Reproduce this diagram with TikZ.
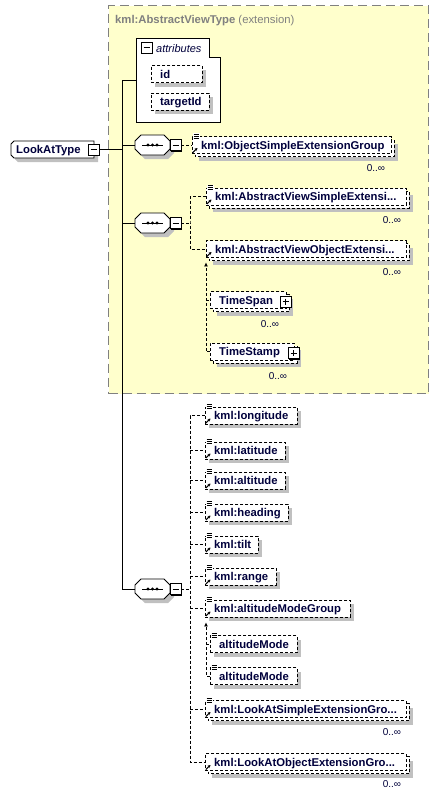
\documentclass[tikz,border=0pt]{standalone}
\usepackage{fontspec}
\setmainfont{Liberation Sans}
\usetikzlibrary{arrows.meta}
\definecolor{bgyellow}{RGB}{255,255,204}
\definecolor{shd}{RGB}{192,192,192}
\definecolor{framec}{RGB}{128,128,128}
\definecolor{navy}{RGB}{0,0,60}
\tikzset{
  conn/.style={line width=0.8pt, black},
  dcon/.style={line width=0.8pt, black, dash pattern=on 3pt off 2pt},
  ebox/.style={draw=black, fill=white, line width=0.8pt, dash pattern=on 3pt off 2pt, inner sep=0pt, minimum height=17pt},
  etext/.style={font=\fontsize{11.3}{13}\selectfont\bfseries, text=navy, inner sep=0pt, anchor=base west},
  occ/.style={font=\fontsize{10}{12}\selectfont, text=navy, inner sep=0pt},
  tgbox/.style={draw=black, fill=white, line width=0.8pt, minimum width=11pt, minimum height=11pt, inner sep=0pt},
  subarrow/.style={dcon, -{Latex[length=4pt,width=4pt]}},
}
% element box: name, x1, x2, cy, text, repeated(0/1)
\newcommand{\xelem}[6]{%
  \ifnum#6=1\relax
    \fill[shd] (#2+7,#4-8.5+7) rectangle (#3+7,#4+8.5+7);
    \draw[ebox] (#2+3,#4-8.5+3) rectangle (#3+3,#4+8.5+3);
  \else
    \fill[shd] (#2+4,#4-8.5+4) rectangle (#3+4,#4+8.5+4);
  \fi
  \node[ebox, minimum width={(#3-#2)*1pt}, anchor=west] (#1) at (#2,#4) {};
  \node[etext] (#1-t) at (#2+9,#4+4) {#5};
}
\newcommand{\docic}[2]{%
  \fill[white] (#1+0.5,#2-12) rectangle (#1+7.5,#2-6);
  \draw[line width=0.7pt] (#1+1.5,#2-11)--(#1+6.5,#2-11) (#1+1.5,#2-9)--(#1+6.5,#2-9) (#1+1.5,#2-7)--(#1+6.5,#2-7);
}
\newcommand{\refic}[2]{%
  \draw[line width=1pt, -{Stealth[length=2.8pt,width=3pt]}] (#1+0.8,#2+7.5) -- (#1+5.5,#2+3);
}
\newcommand{\minusbx}[3]{%
  \fill[black] (#2-4.5,#3-4.5) rectangle (#2+6.5,#3+6.5);
  \node[tgbox] (#1) at (#2,#3) {};
  \draw[line width=0.8pt] (#2-3,#3)--(#2+3,#3);}
\newcommand{\plusbx}[3]{%
  \fill[black] (#2-4.5,#3-4.5) rectangle (#2+6.5,#3+6.5);
  \node[tgbox] (#1) at (#2,#3) {};
  \draw[line width=0.8pt] (#2-3,#3)--(#2+3,#3) (#2,#3-3)--(#2,#3+3);}
\newcommand{\seqsym}[3]{%
  \fill[shd] (#2+10,#3-6) -- (#2+33,#3-6) -- (#2+39,#3) -- (#2+39,#3+8) -- (#2+33,#3+14) -- (#2+10,#3+14) -- (#2+4,#3+8) -- (#2+4,#3) -- cycle;
  \draw[fill=white, line width=0.8pt] (#2+6,#3-10) -- (#2+29,#3-10) -- (#2+35,#3-4) -- (#2+35,#3+4) -- (#2+29,#3+10) -- (#2+6,#3+10) -- (#2,#3+4) -- (#2,#3-4) -- cycle;
  \node[inner sep=0pt, minimum width=35pt, minimum height=20pt, anchor=west] (#1) at (#2,#3) {};
  \draw[line width=0.8pt] (#2+7,#3) -- (#2+28,#3);
  \foreach \dx in {13,17.5,22} \fill (#2+\dx,#3) circle (1.6);
  \minusbx{#1-m}{#2+40.5}{#3}}
\begin{document}
\begin{tikzpicture}[x=1pt,y=-1pt]
\useasboundingbox (0,0) rectangle (438,796);
\fill[white] (0,0) rectangle (438,796);
% extension frame
\node[draw=framec, fill=bgyellow, line width=1pt, dash pattern=on 9pt off 5pt, minimum width=320pt, minimum height=388pt, anchor=north west, inner sep=0pt] (ext) at (108,5) {};
\node[anchor=base west, inner sep=0pt, text=framec, font=\fontsize{11.3}{13}\selectfont] (title) at (115,23) {\textbf{kml:AbstractViewType} (extension)};
% attributes
\draw[fill=white, line width=0.8pt] (136,38) -- (209,38) -- (209,57) -- (220,57) -- (220,122) -- (136,122) -- cycle;
\node[inner sep=0pt, minimum width=84pt, minimum height=84pt] (attr) at (178,80) {};
\node[tgbox] (attr-m) at (146.5,47.5) {};
\draw[line width=0.8pt] (143.5,47.5)--(149.5,47.5);
\node[anchor=base west, inner sep=0pt, text=navy, font=\fontsize{11}{13}\selectfont\itshape] (attr-t) at (156,52) {attributes};
\xelem{aid}{151}{202}{74}{id}{0}
\xelem{atid}{151}{209}{101.5}{targetId}{0}
% root
\fill[shd] (18,145) -- (98,145) -- (98,162) -- (18,162) -- (15,159) -- (15,148) -- cycle;
\draw[fill=white, line width=0.8pt] (14,141) -- (94,141) -- (94,158) -- (14,158) -- (11,155) -- (11,144) -- cycle;
\node[inner sep=0pt, minimum width=83pt, minimum height=17pt, anchor=west] (root) at (11,149.5) {};
\node[etext] (root-t) at (16,153.5) {LookAtType};
\minusbx{root-m}{93.5}{149.5}
% sequences
\seqsym{seqa}{135}{145}
\seqsym{seqb}{135}{223}
\seqsym{seqc}{135}{589}
% group 1
\xelem{oseg}{192}{391}{145}{kml:ObjectSimpleExtensionGroup}{1}
\docic{192}{145}\refic{192}{145}
\node[occ] (oseg-o) at (376,168) {0..∞};
% group 2
\xelem{avse}{206}{406}{196.5}{kml:AbstractViewSimpleExtensi...}{1}
\docic{206}{196.5}\refic{206}{196.5}
\node[occ] (avse-o) at (392,220) {0..∞};
\xelem{avoe}{206}{406}{249}{kml:AbstractViewObjectExtensi...}{1}
\refic{206}{249}
\node[occ] (avoe-o) at (392,272) {0..∞};
\xelem{tspan}{210}{286}{300}{TimeSpan}{1}
\plusbx{tspan-p}{285.5}{301.5}
\node[occ] (tspan-o) at (270,324) {0..∞};
\xelem{tstamp}{210}{294}{351.5}{TimeStamp}{1}
\plusbx{tstamp-p}{293.5}{353}
\node[occ] (tstamp-o) at (278,376) {0..∞};
% group 3
\xelem{lon}{205}{297}{415.5}{kml:longitude}{0}
\docic{205}{415.5}\refic{205}{415.5}
\xelem{lati}{205}{285}{450.5}{kml:latitude}{0}
\docic{205}{450.5}\refic{205}{450.5}
\xelem{alti}{205}{285}{480.5}{kml:altitude}{0}
\docic{205}{480.5}\refic{205}{480.5}
\xelem{head}{205}{288}{512.5}{kml:heading}{0}
\docic{205}{512.5}\refic{205}{512.5}
\xelem{tilt}{205}{258}{544.5}{kml:tilt}{0}
\docic{205}{544.5}\refic{205}{544.5}
\xelem{rng}{205}{276}{576.5}{kml:range}{0}
\docic{205}{576.5}\refic{205}{576.5}
\xelem{amg}{205}{350}{608.5}{kml:altitudeModeGroup}{0}
\docic{205}{608.5}\refic{205}{608.5}
\xelem{amone}{210}{297}{644}{altitudeMode}{0}
\docic{210}{644}
\xelem{amtwo}{210}{297}{676}{altitudeMode}{0}
\docic{210}{676}
\xelem{las}{205}{406}{709}{kml:LookAtSimpleExtensionGro...}{1}
\docic{205}{709}\refic{205}{709}
\node[occ] (las-o) at (392,732) {0..∞};
\xelem{lao}{205}{406}{762}{kml:LookAtObjectExtensionGro...}{1}
\refic{205}{762}
\node[occ] (lao-o) at (392,784) {0..∞};
% trunk
\coordinate (tr) at (122,80);
\draw[conn] (attr.west) -- (tr) |- (seqc.west);
\draw[conn] (root-m.east) -- (root-m.east -| tr);
\draw[conn] (seqa.west -| tr) -- (seqa.west);
\draw[conn] (seqb.west -| tr) -- (seqb.west);
% group 1 connector
\draw[dcon] (seqa-m.east) -- (oseg.west);
% group 2 connectors
\coordinate (vb) at (190,223);
\draw[dcon] (seqb-m.east) -- (vb);
\draw[dcon] (avse.west) -| (vb) |- (avoe.west);
\coordinate (avx) at ([yshift=-4.5pt]avoe.south west);
\draw[subarrow] (tstamp.west) -| (avx);
\draw[dcon] (avx |- tspan.west) -- (tspan.west);
% group 3 connectors
\coordinate (vc) at (190,589);
\draw[dcon] (seqc-m.east) -- (vc);
\draw[dcon] (lon.west) -| (vc) |- (lao.west);
\foreach \n in {lati,alti,head,tilt,rng,amg,las}
  \draw[dcon] (vc |- \n.west) -- (\n.west);
\coordinate (amx) at ([xshift=1pt,yshift=-5pt]amg.south west);
\draw[subarrow] (amtwo.west) -| (amx);
\draw[dcon] (amx |- amone.west) -- (amone.west);
\end{tikzpicture}
\end{document}
